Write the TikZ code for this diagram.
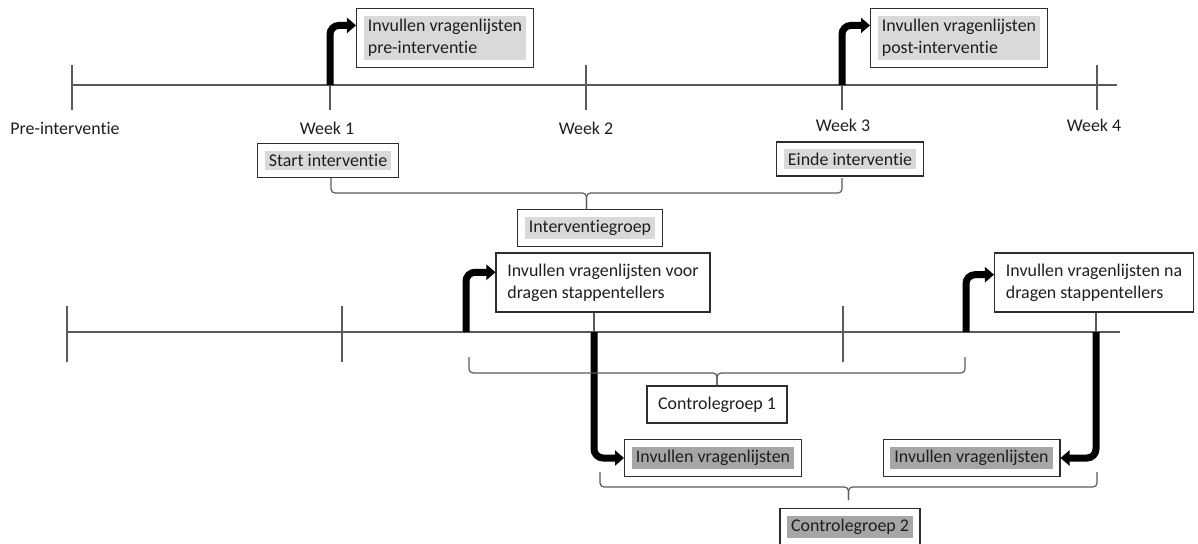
\documentclass[tikz,border=0pt]{standalone}
\usepackage{fontspec}
\setmainfont{Carlito}[Ligatures=NoCommon]
\usetikzlibrary{arrows.meta,fit,calc}

\definecolor{lichtgrijs}{HTML}{D9D9D9}
\definecolor{donkergrijs}{HTML}{A6A6A6}
\definecolor{lijngrijs}{HTML}{5A5A5A}
\definecolor{randgrijs}{HTML}{2E2E2E}
\definecolor{tekstgrijs}{HTML}{1E1E1E}

\begin{document}
\begin{tikzpicture}[x=1pt,y=-1pt,
	font=\fontsize{17.9pt}{21.9pt}\selectfont,text=tekstgrijs,
	txt/.style={inner xsep=4pt,inner ysep=3.5pt,align=left},
	licht/.style={txt,fill=lichtgrijs},
	donker/.style={txt,fill=donkergrijs},
	kader/.style={draw=randgrijs,line width=1.4pt,inner sep=7pt,fit=#1},
	tijdlijn/.style={draw=lijngrijs,line width=1.2pt},
	dikpijl/.style={line width=7pt,rounded corners=9pt,-{Triangle[length=9pt,width=15pt]}},
	accolade/.style={draw=lijngrijs,line width=1.2pt,rounded corners=4pt}]
	
	\useasboundingbox (0,0) rectangle (1198,543);
	
	% tijdlijn interventiegroep
	\coordinate (pre) at (72,85);
	\coordinate (w1)  at (330,85);
	\coordinate (w2)  at (586,85);
	\coordinate (w3)  at (842,85);
	\coordinate (w4)  at (1097,85);
	\coordinate (eind1) at (1117,85);
	\draw[tijdlijn] (pre) -- (eind1);
	\foreach \p in {pre,w1,w2,w3,w4}
		\draw[tijdlijn] ($(\p)+(0,-20)$) -- ($(\p)+(0,25)$);
	
	\node (lpre) at (65,128)   {Pre-interventie};
	\node (lw1)  at (327,128)  {Week 1};
	\node (lw2)  at (586,128)  {Week 2};
	\node (lw3)  at (843,125)  {Week 3};
	\node (lw4)  at (1094,125) {Week 4};
	
	% tijdlijn controlegroepen
	\coordinate (s0) at (67,332);
	\coordinate (s1) at (342,332);
	\coordinate (s2) at (843,332);
	\coordinate (eind2) at (1120,332);
	\coordinate (a1) at (466,332);
	\coordinate (a2) at (966,332);
	\coordinate (d1) at (594,332);
	\coordinate (d2) at (1096,332);
	\draw[tijdlijn] (s0) -- (eind2);
	\foreach \p in {s0,s1,s2}
		\draw[tijdlijn] ($(\p)+(0,-26)$) -- ($(\p)+(0,30)$);
	
	% kaders
	\node[licht] (tpre) at (445,38) {Invullen vragenlijsten\\pre-interventie};
	\node[kader=(tpre)] (bpre) {};
	\node[licht] (tpost) at (959,38) {Invullen vragenlijsten\\post-interventie};
	\node[kader=(tpost)] (bpost) {};
	\node[licht] (tstart) at (328,160.5) {Start interventie};
	\node[kader=(tstart)] (bstart) {};
	\node[licht] (teinde) at (850,159) {Einde interventie};
	\node[kader=(teinde)] (beinde) {};
	\node[licht] (tig) at (590,228) {Interventiegroep};
	\node[kader=(tig)] (big) {};
	
	\node[txt] (tvoor) at (603,282.5) {Invullen vragenlijsten voor\\dragen stappentellers};
	\node[kader=(tvoor)] (bvoor) {};
	\node[txt] (tna) at (1094,282.5) {Invullen vragenlijsten na\\dragen stappentellers};
	\node[kader=(tna)] (bna) {};
	\node[txt] (tcg1) at (717,404.5) {Controlegroep 1};
	\node[kader=(tcg1)] (bcg1) {};
	
	\node[donker] (tiv1) at (713,458) {Invullen vragenlijsten};
	\node[kader=(tiv1)] (biv1) {};
	\node[donker] (tiv2) at (971.5,458) {Invullen vragenlijsten};
	\node[kader=(tiv2)] (biv2) {};
	\node[donker] (tcg2) at (850,527) {Controlegroep 2};
	\node[kader=(tcg2)] (bcg2) {};
	
	% dikke pijlen
	\draw[dikpijl] (w1) |- ($(bpre.north west)!0.29!(bpre.south west)$);
	\draw[dikpijl] (w3) |- ($(bpost.north west)!0.29!(bpost.south west)$);
	\draw[dikpijl] (a1) |- ($(bvoor.north west)!0.33!(bvoor.south west)$);
	\draw[dikpijl] (a2) |- ($(bna.north west)!0.37!(bna.south west)$);
	\draw[tijdlijn] (bvoor.south -| d1) -- (d1);
	\draw[dikpijl] (d1) |- (biv1.west);
	\draw[tijdlijn] (bna.south -| d2) -- (d2);
	\draw[dikpijl] (d2) |- (biv2.east);
	
	% accolades
	\coordinate (igL) at (331,178);
	\coordinate (igR) at (842,178);
	\coordinate (igM) at (586.5,193);
	\draw[accolade] (igL) |- (igM) -- (big.north -| igM);
	\draw[accolade] (igR) |- (igM) -- (big.north -| igM);
	
	\coordinate (c1L) at (469,357);
	\coordinate (c1R) at (965,357);
	\coordinate (c1M) at (717,373);
	\draw[accolade] (c1L) |- (c1M) -- (bcg1.north -| c1M);
	\draw[accolade] (c1R) |- (c1M) -- (bcg1.north -| c1M);
	
	\coordinate (c2L) at (600,472);
	\coordinate (c2R) at (1097,472);
	\coordinate (c2M) at (848.5,487);
	\coordinate (c2T) at (848.5,500);
	\draw[accolade] (c2L) |- (c2M) -- (c2T);
	\draw[accolade] (c2R) |- (c2M) -- (c2T);
	
\end{tikzpicture}
\end{document}
